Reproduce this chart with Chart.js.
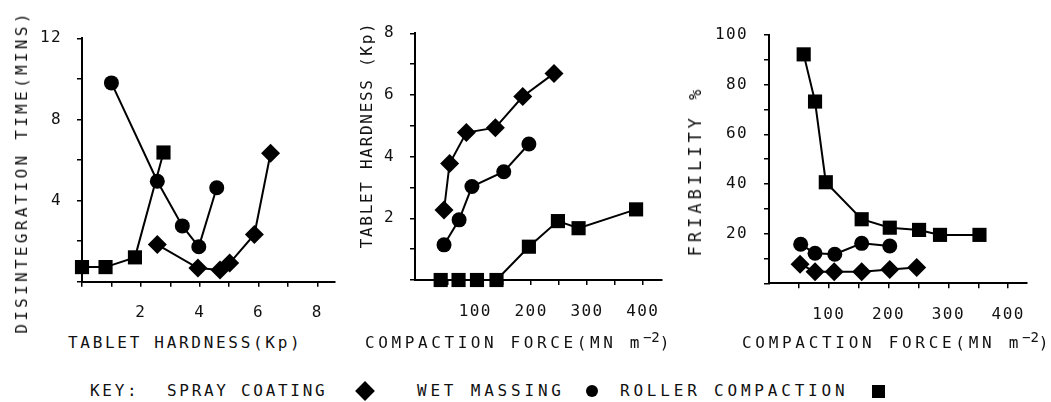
<!DOCTYPE html>
<html>
<head>
<meta charset="utf-8">
<script src="https://cdn.jsdelivr.net/npm/chart.js@4.4.1/dist/chart.umd.min.js"></script>
<style>
  body { margin: 0; background: #fff; width: 1051px; height: 402px; position: relative; overflow: hidden;
         font-family: "DejaVu Sans Mono", monospace; color: #111; }
  canvas { position: absolute; top: 0; }
  .lbl { position: absolute; font-size: 16px; line-height: 16px; white-space: nowrap; letter-spacing: 2.7px; }
  .vert { transform: translate(-50%, -50%) rotate(-90deg); }
  .lbl sup { font-size: 14px; position: relative; top: -6px; letter-spacing: 0; vertical-align: top; }
  .mk { position: absolute; background: #000; }
</style>
</head>
<body>
<canvas id="chartDis" width="345" height="330" style="left:0"></canvas>
<canvas id="chartHard" width="330" height="330" style="left:345px"></canvas>
<canvas id="chartFri" width="376" height="330" style="left:675px"></canvas>

<div class="lbl vert" style="left:22px; top:172px; letter-spacing:3.3px">DISINTEGRATION TIME(MINS)</div>
<div class="lbl vert" style="left:367px; top:135px; letter-spacing:1.7px">TABLET HARDNESS (Kp)</div>
<div class="lbl vert" style="left:695px; top:171px; font-size:17px; letter-spacing:4px">FRIABILITY %</div>

<div class="lbl" style="left:68px; top:335px">TABLET HARDNESS(Kp)</div>
<div class="lbl" style="left:365px; top:335px; letter-spacing:3.6px">COMPACTION FORCE(MN m<sup>−2</sup>)</div>
<div class="lbl" style="left:742px; top:335px; letter-spacing:3.7px">COMPACTION FORCE(MN m<sup>−2</sup>)</div>

<div class="lbl" style="left:90px; top:383px">KEY:</div>
<div class="lbl" style="left:167px; top:383px">SPRAY COATING</div>
<div class="mk" style="left:358px; top:384px; width:14px; height:14px; transform:rotate(45deg)"></div>
<div class="lbl" style="left:417px; top:383px; letter-spacing:3.8px">WET MASSING</div>
<div class="mk" style="left:586px; top:385px; width:12px; height:12px; border-radius:50%"></div>
<div class="lbl" style="left:620px; top:383px; letter-spacing:3.8px">ROLLER COMPACTION</div>
<div class="mk" style="left:872px; top:385px; width:13px; height:13px"></div>

<script>
// left panel: disintegration time (mins) vs tablet hardness (Kp)
const dtSprayHard  = [2.56, 3.94, 4.69, 5.02, 5.86, 6.41];
const dtSprayTime  = [1.83, 0.67, 0.58, 0.92, 2.33, 6.33];
const dtWetHard    = [1.0, 2.56, 3.41, 3.97, 4.58];
const dtWetTime    = [9.8, 4.95, 2.75, 1.72, 4.63];
const dtRollerHard = [0, 0.8, 1.8, 2.77];
const dtRollerTime = [0.72, 0.72, 1.2, 6.37];

// middle panel: tablet hardness (Kp) vs compaction force
const hfSprayForce  = [44, 54, 84, 136, 185, 241];
const hfSprayHard   = [2.27, 3.78, 4.78, 4.94, 5.95, 6.7];
const hfWetForce    = [44, 71, 94, 151, 196];
const hfWetHard     = [1.14, 1.95, 3.03, 3.51, 4.41];
const hfRollerForce = [38, 70, 103, 138, 196, 248, 285, 388];
const hfRollerHard  = [0, 0, 0, 0, 1.08, 1.91, 1.68, 2.29];

// right panel: friability % vs compaction force
const frSprayForce  = [52, 77, 109, 155, 202, 247];
const frSprayPct    = [7.7, 4.7, 4.7, 4.7, 5.6, 6.4];
const frWetForce    = [53, 77, 110, 155, 202];
const frWetPct      = [15.7, 12.1, 11.7, 16.1, 15.0];
const frRollerForce = [58, 77, 95, 155, 202, 251, 286, 352];
const frRollerPct   = [92.2, 73.2, 40.7, 25.8, 22.4, 21.5, 19.5, 19.5];

// ticks (marks) and which of them carry a label
const disXTicks  = [0, 1, 2, 3, 4, 5, 6, 7, 8];
const disXLabels = [2, 4, 6, 8];
const disYTicks  = [0, 2, 4, 6, 8, 10, 12];
const disYLabels = [4, 8, 12];
const forceTicks  = [50, 100, 150, 200, 250, 300, 350, 400];
const forceLabels = [100, 200, 300, 400];
const hardYTicks  = [0, 1, 2, 3, 4, 5, 6, 7, 8];
const hardYLabels = [2, 4, 6, 8];
const friYTicks   = [0, 10, 20, 30, 40, 50, 60, 70, 80, 90, 100];
const friYLabels  = [20, 40, 60, 80, 100];

const zip = (xs, ys) => xs.map((x, i) => ({ x, y: ys[i] }));

function series(xs, ys, style) {
  const radius = style === 'circle' ? 7.5 : style === 'rect' ? 10 : 9.5;
  return {
    data: zip(xs, ys),
    borderColor: '#000',
    borderWidth: 2,
    pointStyle: style,
    pointRadius: radius,
    pointBackgroundColor: '#000',
    pointBorderWidth: 0,
    tension: 0,
    clip: false,
  };
}

const tickFont = { family: 'DejaVu Sans Mono', size: 16 };

function axis(min, max, tickVals, labelVals, boxSize, pad) {
  return {
    type: 'linear',
    min, max,
    afterBuildTicks: (s) => { s.ticks = tickVals.map(v => ({ value: v })); },
    afterFit: (s) => { if (s.isHorizontal()) s.height = boxSize; else s.width = boxSize; },
    ticks: {
      autoSkip: false, maxRotation: 0, padding: pad, color: '#111', font: tickFont,
      callback: (v) => labelVals.includes(v) ? String(v) : '',
    },
    grid: { drawOnChartArea: false, drawTicks: true, tickLength: 5, color: '#000', lineWidth: 1.5 },
    border: { display: true, color: '#000', width: 2 },
  };
}

// the typed labels are spaced a little wider than the font
const spacing = {
  id: 'spacing',
  beforeDraw: (c) => { c.ctx.letterSpacing = '1.4px'; },
};

function makeChart(id, datasets, xScale, yScale, padding) {
  return new Chart(document.getElementById(id), {
    type: 'line',
    data: { datasets },
    options: {
      responsive: false,
      animation: false,
      events: [],
      devicePixelRatio: 1,
      layout: { padding },
      plugins: { legend: { display: false }, tooltip: { enabled: false } },
      scales: { x: xScale, y: yScale },
    },
    plugins: [spacing],
  });
}

makeChart('chartDis', [
  series(dtSprayHard, dtSprayTime, 'rectRot'),
  series(dtWetHard, dtWetTime, 'circle'),
  series(dtRollerHard, dtRollerTime, 'rect'),
], axis(0, 8.6, disXTicks, disXLabels, 48.3, 17), axis(0, 12, disYTicks, disYLabels, 82, 15),
   { top: 38.3, right: 5, bottom: 0, left: 0 });

makeChart('chartHard', [
  series(hfSprayForce, hfSprayHard, 'rectRot'),
  series(hfWetForce, hfWetHard, 'circle'),
  series(hfRollerForce, hfRollerHard, 'rect'),
], axis(-8, 434, forceTicks, forceLabels, 50, 17), axis(0, 8, hardYTicks, hardYLabels, 70, 15),
   { top: 33.3, right: 3.3, bottom: 0, left: 0 });

makeChart('chartFri', [
  series(frSprayForce, frSprayPct, 'rectRot'),
  series(frWetForce, frWetPct, 'circle'),
  series(frRollerForce, frRollerPct, 'rect'),
], axis(0, 431, forceTicks, forceLabels, 46.7, 17), axis(0, 100, friYTicks, friYLabels, 94, 16),
   { top: 35, right: 24.3, bottom: 0, left: 0 });
</script>
</body>
</html>
